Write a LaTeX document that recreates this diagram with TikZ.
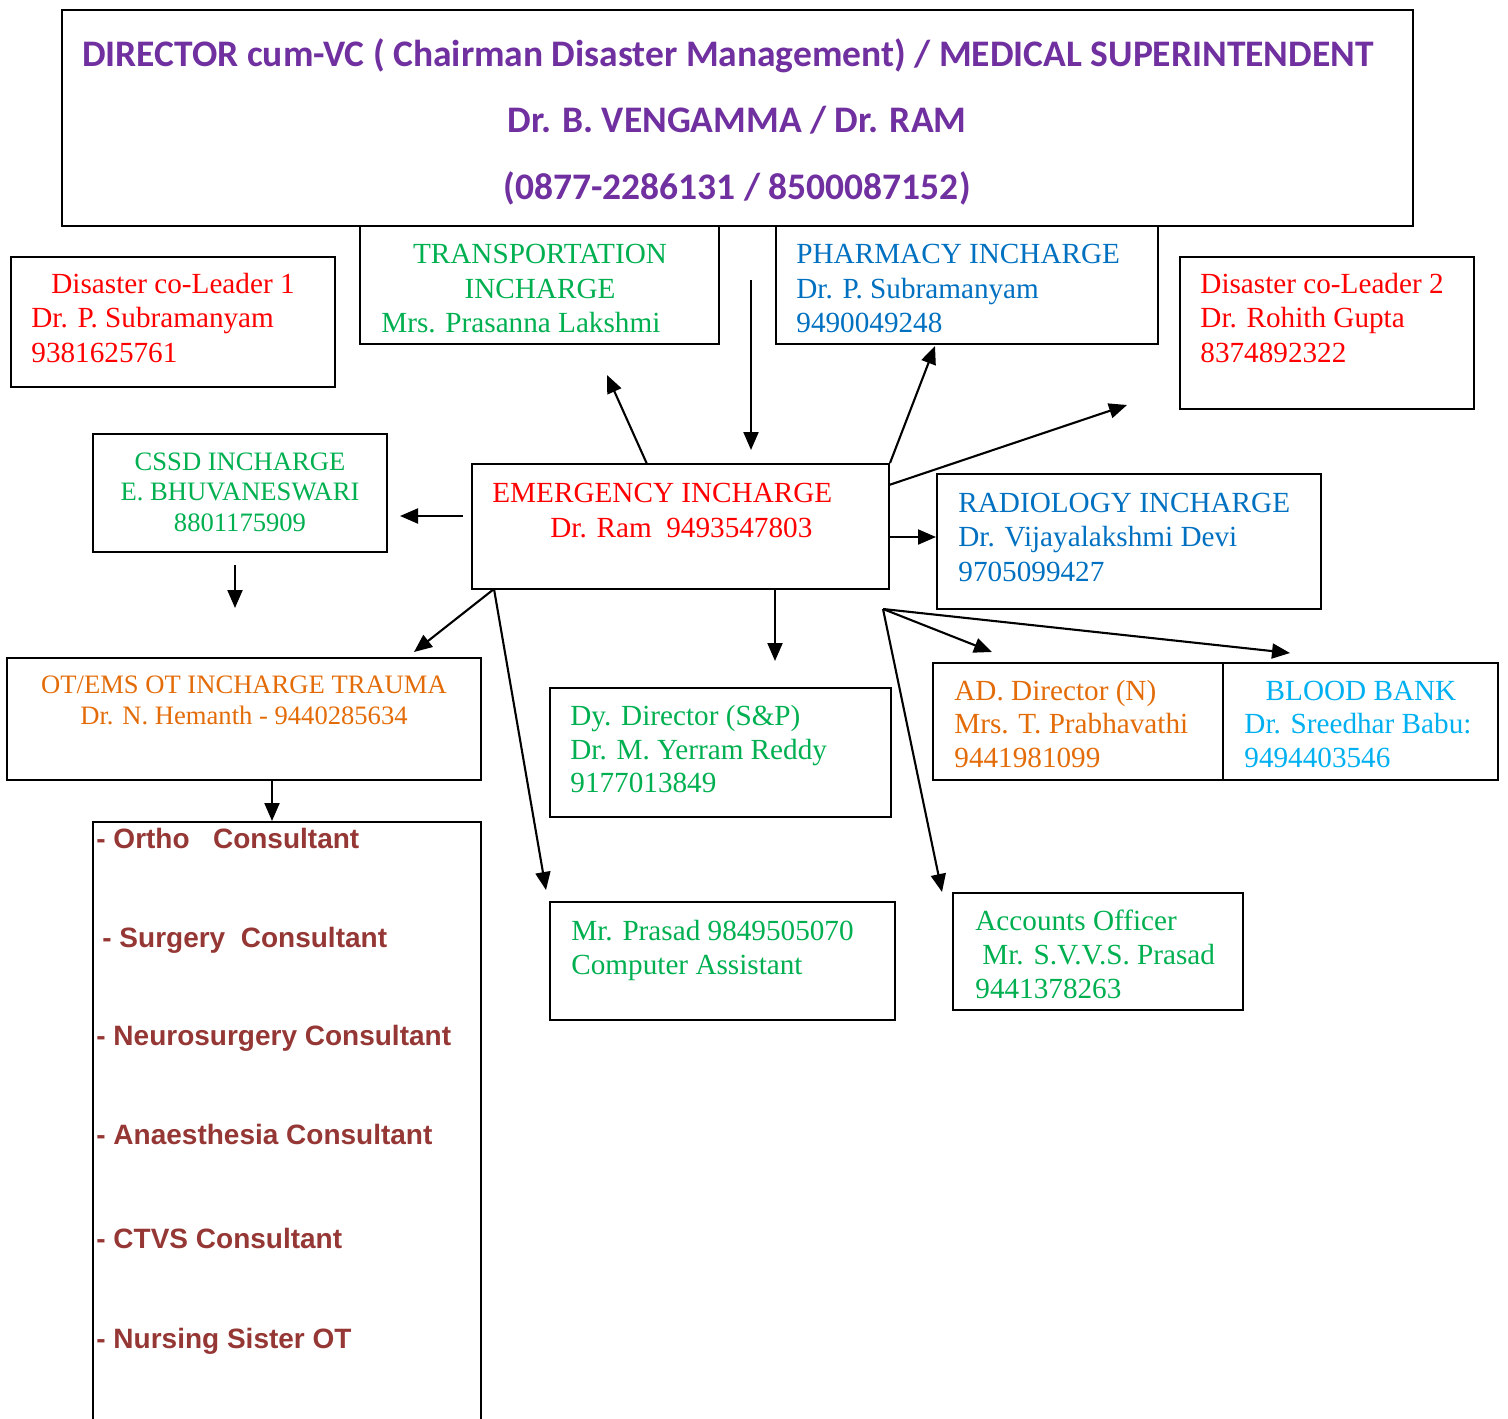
\documentclass[tikz,border=0pt]{standalone}
\usepackage{fontspec}
\setmainfont{Liberation Serif}
\newfontfamily\titlefont{Carlito}
\newfontfamily\arialfont{Liberation Sans}
\usetikzlibrary{arrows.meta,fit}
\definecolor{cpurple}{HTML}{7030A0}
\definecolor{cred}{HTML}{FF0000}
\definecolor{cgreen}{HTML}{00B050}
\definecolor{cblue}{HTML}{0070C0}
\definecolor{corange}{HTML}{E36C09}
\definecolor{clblue}{HTML}{00B0F0}
\definecolor{cmaroon}{HTML}{953735}
\begin{document}
\begin{tikzpicture}[x=0.5pt,y=-0.5pt,
  box/.style={draw,line width=1pt,inner sep=0pt},
  tt/.style={inner sep=0pt,text=cpurple,font=\titlefont\bfseries\fontsize{18.75}{22}\selectfont},
  tx/.style={inner sep=0pt,font=\fontsize{14.6}{17}\selectfont},
  ts/.style={inner sep=0pt,font=\fontsize{13.3}{15}\selectfont},
  tc/.style={inner sep=0pt,text=cmaroon,font=\arialfont\bfseries\fontsize{14}{17}\selectfont},
  arr/.style={line width=1.05pt,-{Triangle[length=9pt,width=7.5pt]}}
]
\useasboundingbox (0,0) rectangle (1508,1418);
% ---- boxes ----
\node[box,fit={(62,10)(1413,226)}] (title) {};
\node[box,fit={(360,226)(719,344)}] (trans) {};
\node[box,fit={(11,257)(335,387)}] (lead1) {};
\node[box,fit={(776,226)(1158,344)}] (pharm) {};
\node[box,fit={(1180,257)(1474,409)}] (lead2) {};
\node[box,fit={(93,434)(387,552)}] (cssd) {};
\node[box,fit={(472,464)(889,589)}] (emer) {};
\node[box,fit={(937,474)(1321,609)}] (radio) {};
\node[box,fit={(7,658)(481,780)}] (ot) {};
\node[box,fit={(550,688)(891,817)}] (dydir) {};
\node[box,fit={(933,663)(1223,780)}] (addir) {};
\node[box,fit={(1223,663)(1498,780)}] (blood) {};
\node[box,fit={(93,822)(481,1440)}] (cons) {};
\node[box,fit={(550,902)(895,1020)}] (comp) {};
\node[box,fit={(953,893)(1243,1010)}] (acct) {};
% ---- texts ----
\node[tt,anchor=base] (t1) at (728,67) {DIRECTOR cum-VC ( Chairman Disaster Management) / MEDICAL SUPERINTENDENT};
\node[tt,anchor=base] (t2) at (737,133) {Dr. B. VENGAMMA / Dr. RAM};
\node[tt,anchor=base] (t3) at (737,199) {(0877-2286131 / 8500087152)};

\node[tx,text=cgreen,anchor=base] (tr1) at (540,263) {TRANSPORTATION};
\node[tx,text=cgreen,anchor=base] (tr2) at (540,298) {INCHARGE};
\node[tx,text=cgreen,anchor=base west] (tr3) at (381,332) {Mrs. Prasanna Lakshmi};

\node[tx,text=cred,anchor=base west] (l1a) at (51,293) {Disaster co-Leader 1};
\node[tx,text=cred,anchor=base west] (l1b) at (31,327) {Dr. P. Subramanyam};
\node[tx,text=cred,anchor=base west] (l1c) at (31,362) {9381625761};

\node[tx,text=cblue,anchor=base west] (p1) at (796,263) {PHARMACY INCHARGE};
\node[tx,text=cblue,anchor=base west] (p2) at (796,298) {Dr. P. Subramanyam};
\node[tx,text=cblue,anchor=base west] (p3) at (796,332) {9490049248};

\node[tx,text=cred,anchor=base west] (l2a) at (1200,293) {Disaster co-Leader 2};
\node[tx,text=cred,anchor=base west] (l2b) at (1200,327) {Dr. Rohith Gupta};
\node[tx,text=cred,anchor=base west] (l2c) at (1200,362) {8374892322};

\node[ts,text=cgreen,anchor=base] (c1) at (240,470) {CSSD INCHARGE};
\node[ts,text=cgreen,anchor=base] (c2) at (240,500) {E. BHUVANESWARI};
\node[ts,text=cgreen,anchor=base] (c3) at (240,531) {8801175909};

\node[tx,text=cred,anchor=base west] (e1) at (492,502) {EMERGENCY INCHARGE};
\node[tx,text=cred,anchor=base west] (e2) at (550,537) {Dr. Ram\ \ 9493547803};

\node[tx,text=cblue,anchor=base west] (r1) at (958,512) {RADIOLOGY INCHARGE};
\node[tx,text=cblue,anchor=base west] (r2) at (958,546) {Dr. Vijayalakshmi Devi};
\node[tx,text=cblue,anchor=base west] (r3) at (958,581) {9705099427};

\node[ts,text=corange,anchor=base] (o1) at (244,693) {OT/EMS OT INCHARGE TRAUMA};
\node[ts,text=corange,anchor=base] (o2) at (244,724) {Dr. N. Hemanth - 9440285634};

\node[tx,text=cgreen,anchor=base west] (d1) at (570,725) {Dy. Director (S\&P)};
\node[tx,text=cgreen,anchor=base west] (d2) at (570,759) {Dr. M. Yerram Reddy};
\node[tx,text=cgreen,anchor=base west] (d3) at (570,792) {9177013849};

\node[tx,text=corange,anchor=base west] (a1) at (954,700) {AD. Director (N)};
\node[tx,text=corange,anchor=base west] (a2) at (954,733) {Mrs. T. Prabhavathi};
\node[tx,text=corange,anchor=base west] (a3) at (954,767) {9441981099};

\node[tx,text=clblue,anchor=base] (b1) at (1361,700) {BLOOD BANK};
\node[tx,text=clblue,anchor=base west] (b2) at (1244,733) {Dr. Sreedhar Babu:};
\node[tx,text=clblue,anchor=base west] (b3) at (1244,767) {9494403546};

\node[tc,anchor=base west] (k1) at (96,848) {- Ortho\ \ \ Consultant};
\node[tc,anchor=base west] (k2) at (102,947) {- Surgery\ \ Consultant};
\node[tc,anchor=base west] (k3) at (96,1045) {- Neurosurgery Consultant};
\node[tc,anchor=base west] (k4) at (96,1144) {- Anaesthesia Consultant};
\node[tc,anchor=base west] (k5) at (96,1248) {- CTVS Consultant};
\node[tc,anchor=base west] (k6) at (96,1348) {- Nursing Sister OT};

\node[tx,text=cgreen,anchor=base west] (m1) at (571,940) {Mr. Prasad 9849505070};
\node[tx,text=cgreen,anchor=base west] (m2) at (571,974) {Computer Assistant};

\node[tx,text=cgreen,anchor=base west] (ac1) at (975,930) {Accounts Officer};
\node[tx,text=cgreen,anchor=base west] (ac2) at (982,964) {Mr. S.V.V.S. Prasad};
\node[tx,text=cgreen,anchor=base west] (ac3) at (975,998) {9441378263};

% ---- connector end points ----
\coordinate (eTop) at (647,464);
\coordinate (trTip) at (607,375);
\coordinate (vTop) at (751,280);
\coordinate (vTip) at (751,450);
\coordinate (phTip) at (935,346);
\coordinate (eR1) at (889,485);
\coordinate (l2Tip) at (1127,405);
\coordinate (eL) at (463,516);
\coordinate (csTip) at (400,516);
\coordinate (csB) at (235,565);
\coordinate (csBTip) at (235,608);
\coordinate (eBL) at (494,589);
\coordinate (otTip) at (414,652);
\coordinate (cmTip) at (546,890);
\coordinate (eR2) at (889,537);
\coordinate (eB) at (775,589);
\coordinate (dyTip) at (775,661);
\coordinate (fan) at (883,609);
\coordinate (adTip) at (992,652);
\coordinate (bbTip) at (1290,653);
\coordinate (acTip) at (942,892);
\coordinate (otB) at (272,780);

% ---- connectors ----
\draw[arr] (eTop) -- (trTip);
\draw[arr] (vTop) -- (vTip);
\draw[arr] (emer.north east) -- (phTip);
\draw[arr] (eR1) -- (l2Tip);
\draw[arr] (eL) -- (csTip);
\draw[arr] (csB) -- (csBTip);
\draw[arr] (eBL) -- (otTip);
\draw[arr] (eBL) -- (cmTip);
\draw[arr] (eR2) -- (radio.west |- eR2);
\draw[arr] (eB) -- (dyTip);
\draw[arr] (fan) -- (adTip);
\draw[arr] (fan) -- (bbTip);
\draw[arr] (fan) -- (acTip);
\draw[arr] (otB) -- (cons.north -| otB);
\end{tikzpicture}
\end{document}
